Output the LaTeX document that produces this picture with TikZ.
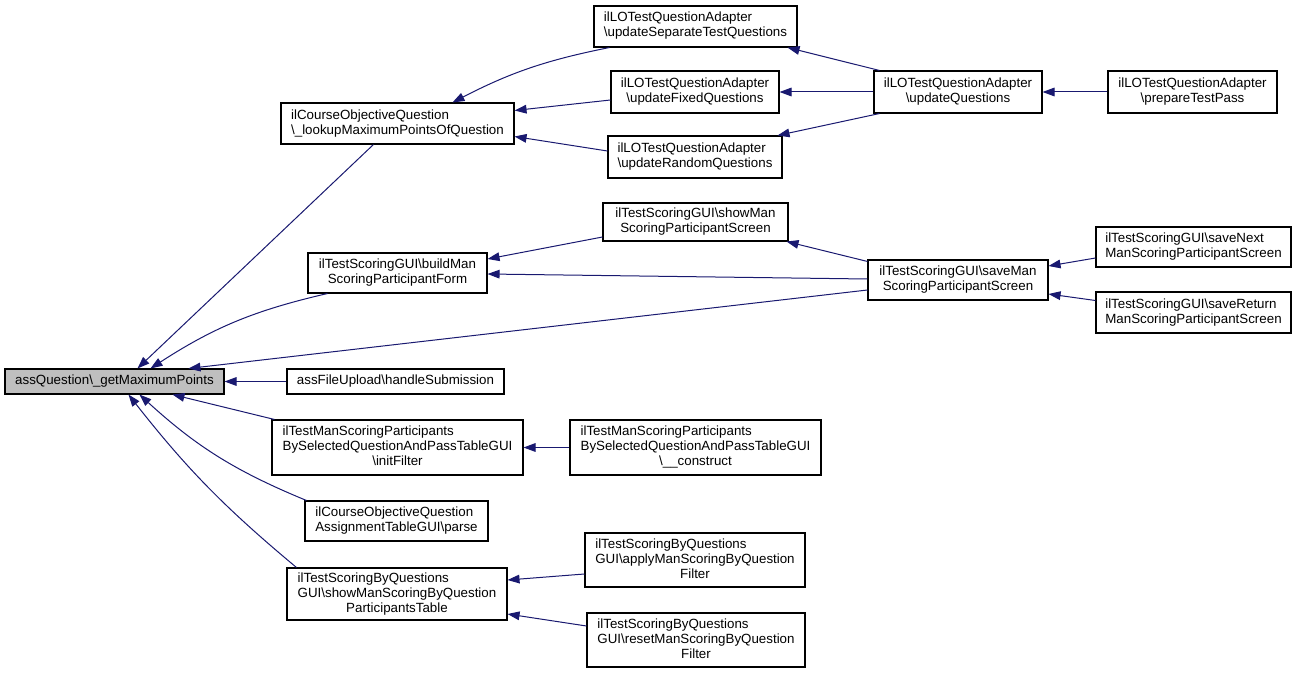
\documentclass[tikz,border=0pt]{standalone}
\usepackage{fontspec}
\setmainfont{Liberation Sans}
\usetikzlibrary{arrows.meta,calc}
\definecolor{edgec}{HTML}{191970}
\definecolor{rootfill}{HTML}{BFBFBF}
\newcommand\twol[2]{\begin{tabular}{@{}l@{}}#1\\\multicolumn{1}{@{}c@{}}{#2}\end{tabular}}
\newcommand\threel[3]{\begin{tabular}{@{}l@{}}#1\\#2\\\multicolumn{1}{@{}c@{}}{#3}\end{tabular}}
\newcommand\bs{\textbackslash}
\newcommand\bx[7][]{\node[box,#1, minimum width={(#5-#3)*0.75pt}, minimum height={(#6-#4)*0.75pt}] (#2) at ({(#3+#5)/2},{(#4+#6)/2}) {#7};}
\begin{document}
\begin{tikzpicture}[x=0.75pt,y=-0.75pt,
  box/.style={draw=black, line width=0.8pt, inner sep=0pt, fill=white, font=\fontsize{10}{11.25}\selectfont},
  edge/.style={draw=edgec, line width=0.75pt, -{Triangle[length=9pt,width=6.5pt]}}]
\useasboundingbox (0,0) rectangle (1296,674);
\fill[white] (0,0) rectangle (1296,674);
\bx[fill=rootfill]{root}{5}{369}{224}{394}{assQuestion\bs\_getMaximumPoints}
\bx{lookup}{281}{103}{514}{144}{\twol{ilCourseObjectiveQuestion}{\bs\_lookupMaximumPointsOfQuestion}}
\bx{sep}{594}{6}{797}{47}{\twol{ilLOTestQuestionAdapter}{\bs updateSeparateTestQuestions}}
\bx{fixed}{611}{71}{779}{113}{\twol{ilLOTestQuestionAdapter}{\bs updateFixedQuestions}}
\bx{random}{608}{136}{782}{178}{\twol{ilLOTestQuestionAdapter}{\bs updateRandomQuestions}}
\bx{updQ}{874}{71}{1042}{113}{\twol{ilLOTestQuestionAdapter}{\bs updateQuestions}}
\bx{prep}{1108}{71}{1277}{113}{\twol{ilLOTestQuestionAdapter}{\bs prepareTestPass}}
\bx{showMan}{603}{203}{788}{241}{\twol{ilTestScoringGUI\bs showMan}{ScoringParticipantScreen}}
\bx{buildMan}{308}{253}{487}{293}{\twol{ilTestScoringGUI\bs buildMan}{ScoringParticipantForm}}
\bx{saveMan}{868}{260}{1048}{300}{\twol{ilTestScoringGUI\bs saveMan}{ScoringParticipantScreen}}
\bx{saveNext}{1096}{227}{1291}{267}{\twol{ilTestScoringGUI\bs saveNext}{ManScoringParticipantScreen}}
\bx{saveRet}{1096}{292}{1291}{333}{\twol{ilTestScoringGUI\bs saveReturn}{ManScoringParticipantScreen}}
\bx{fileUp}{287}{369}{504}{394}{assFileUpload\bs handleSubmission}
\bx{initFilter}{272}{420}{523}{475}{\threel{ilTestManScoringParticipants}{BySelectedQuestionAndPassTableGUI}{\bs initFilter}}
\bx{construct}{570}{420}{821}{475}{\threel{ilTestManScoringParticipants}{BySelectedQuestionAndPassTableGUI}{\bs\_\_construct}}
\bx{parse}{305}{501}{488}{541}{\twol{ilCourseObjectiveQuestion}{AssignmentTableGUI\bs parse}}
\bx{showByQ}{287}{568}{507}{620}{\threel{ilTestScoringByQuestions}{GUI\bs showManScoringByQuestion}{ParticipantsTable}}
\bx{apply}{585}{533}{805}{587}{\threel{ilTestScoringByQuestions}{GUI\bs applyManScoringByQuestion}{Filter}}
\bx{reset}{587}{613}{805}{667}{\threel{ilTestScoringByQuestions}{GUI\bs resetManScoringByQuestion}{Filter}}

\draw[edge] ($(lookup.south west)+(93,0)$) -- ($(root.north west)+(133,0)$);
\draw[edge] ($(buildMan.south west)+(20,0)$) to[bend right=10] ($(root.north west)+(146,0)$);
\draw[edge] ($(saveMan.west)+(0,10)$) -- ($(root.north west)+(184,0)$);
\draw[edge] (fileUp.west) -- (root.east);
\draw[edge] ($(initFilter.north west)+(3,0)$) -- ($(root.south west)+(168,0)$);
\draw[edge] ($(parse.north west)+(2,0)$) to[bend left=10] ($(root.south west)+(135,0)$);
\draw[edge] ($(showByQ.north west)+(10,0)$) to[bend left=6] ($(root.south west)+(124,0)$);
\draw[edge] ($(sep.south west)+(16,0)$) to[bend right=8] ($(lookup.north west)+(172,0)$);
\draw[edge] ($(fixed.west)+(0,8)$) -- ($(lookup.east)+(0,-13)$);
\draw[edge] ($(random.west)+(0,-6)$) -- ($(lookup.east)+(0,13)$);
\draw[edge] ($(updQ.north west)+(6,0)$) -- ($(sep.south east)+(-10,0)$);
\draw[edge] (updQ.west) -- (fixed.east);
\draw[edge] ($(updQ.south west)+(6,0)$) -- ($(random.north east)+(-5,0)$);
\draw[edge] (prep.west) -- (updQ.east);
\draw[edge] ($(showMan.west)+(0,15)$) -- ($(buildMan.east)+(0,-14)$);
\draw[edge] ($(saveMan.west)+(0,-1)$) -- ($(buildMan.east)+(0,1)$);
\draw[edge] ($(saveMan.north west)+(0,2)$) -- ($(showMan.south east)+(-2,0)$);
\draw[edge] ($(saveNext.west)+(0,11)$) -- ($(saveMan.east)+(0,-14)$);
\draw[edge] ($(saveRet.west)+(0,-12)$) -- ($(saveMan.east)+(0,14)$);
\draw[edge] (construct.west) -- (initFilter.east);
\draw[edge] ($(apply.west)+(0,14)$) -- ($(showByQ.east)+(0,-14)$);
\draw[edge] ($(reset.west)+(0,-14)$) -- ($(showByQ.east)+(0,20)$);
\end{tikzpicture}
\end{document}
